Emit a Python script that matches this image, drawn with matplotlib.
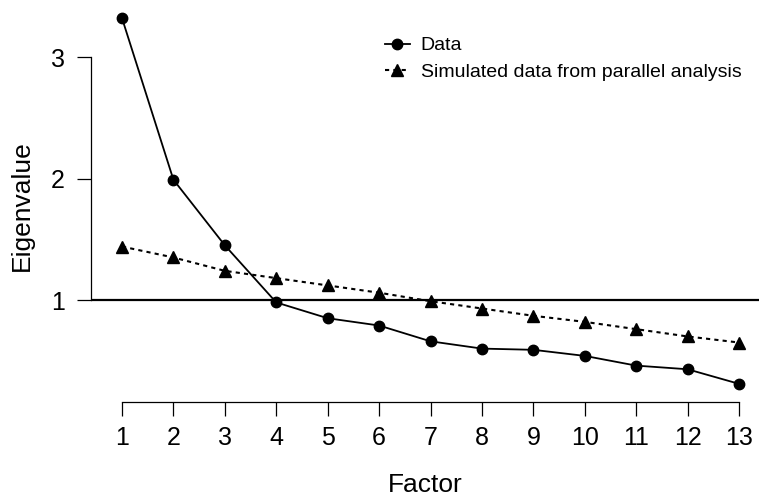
import matplotlib
matplotlib.use("Agg")
import matplotlib.pyplot as plt
import numpy as np

plt.rcParams['font.family'] = ['Liberation Sans', 'DejaVu Sans']

factors = list(range(1, 14))
data_eig = [3.32, 1.99, 1.45, 0.98, 0.85, 0.79, 0.66, 0.60, 0.59, 0.54, 0.46, 0.43, 0.31]
sim_eig = [1.44, 1.35, 1.24, 1.18, 1.12, 1.06, 0.99, 0.93, 0.87, 0.82, 0.76, 0.70, 0.65]
yticks = [1, 2, 3]

W, H = 759, 498
fig = plt.figure(figsize=(W / 100, H / 100), dpi=100)
# plot region in pixels: left 91, right 759, top 10, bottom 402
ax = fig.add_axes([91 / W, (H - 402) / H, (W - 91) / W, (402 - 10) / H])

ax.plot(factors, data_eig, color='black', lw=1.3, marker='o', ms=7.5,
        label='Data', clip_on=False)
ax.plot(factors, sim_eig, color='black', lw=1.5, ls=(0, (2, 2)), marker='^', ms=8.5,
        label='Simulated data from parallel analysis', clip_on=False)
ax.axhline(1, color='black', lw=1.6)

# x: 1 at px 122, 13 at px 739
per = (739 - 122) / 12
ax.set_xlim(1 - (122 - 91) / per, 13 + (759 - 739) / per)
# y: 1 at px 300, 3 at px 57
unit = (300 - 57) / 2
ax.set_ylim(1 - (402 - 300) / unit, 3 + (57 - 10) / unit)

for s in ['top', 'right']:
    ax.spines[s].set_visible(False)
ax.spines['left'].set_bounds(1, 3)
ax.spines['bottom'].set_bounds(1, 13)
ax.spines['left'].set_linewidth(0.9)
ax.spines['bottom'].set_linewidth(0.9)

ax.set_xticks(factors)
ax.set_yticks(yticks)
ax.tick_params(axis='both', direction='out', length=10, width=0.9, labelsize=18, pad=7)
ax.tick_params(axis='y', pad=9)

ax.set_xlabel('Factor', fontsize=19, labelpad=17)
ax.set_ylabel('Eigenvalue', fontsize=19, labelpad=12)

ax.legend(loc='upper left', bbox_to_anchor=(375 / W, 1 - 27 / H),
          bbox_transform=fig.transFigure, frameon=False, fontsize=14,
          handlelength=1.3, handletextpad=0.55, labelspacing=0.45, borderpad=0)

fig.savefig('out.png', dpi=100)
